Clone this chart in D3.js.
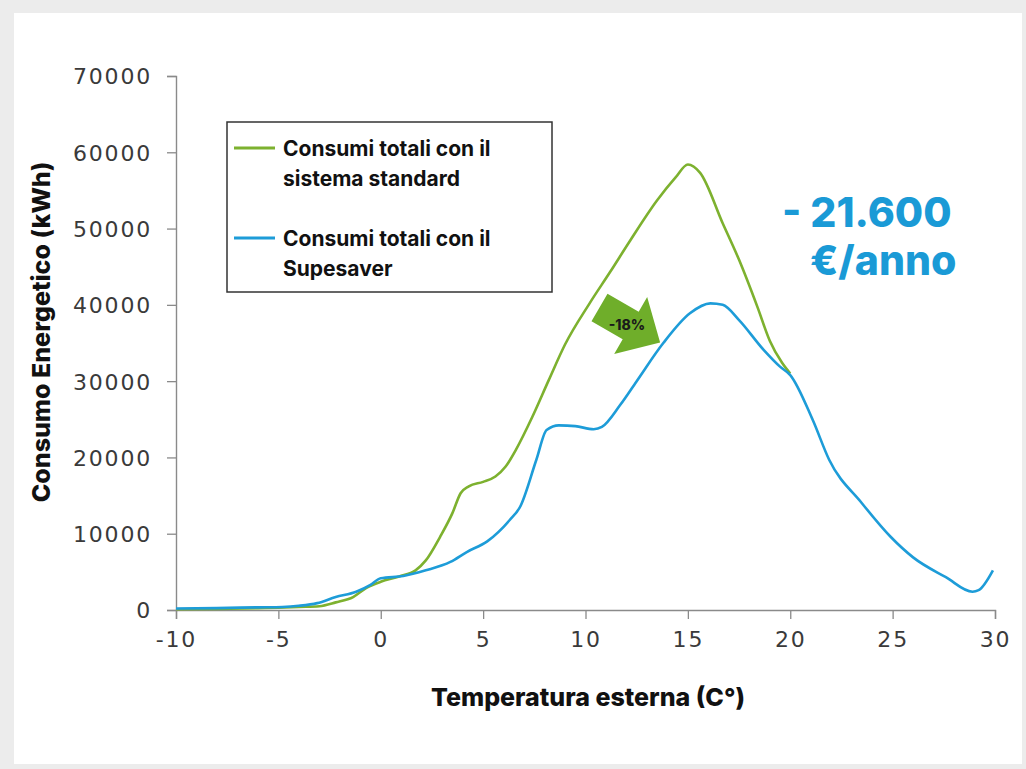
<!DOCTYPE html>
<html>
<head>
<meta charset="utf-8">
<script src="https://cdn.jsdelivr.net/npm/d3@7"></script>
<style>
  html,body{margin:0;padding:0;background:#ececec;}
  svg{display:block;}
</style>
</head>
<body>
<svg id="chart" width="1026" height="769"></svg>
<script>
// ---- data ----
const standardTemps = [-10,-8,-6,-5,-4,-3,-2.2,-1.35,-0.7,0,0.9,1.7,2.2,2.9,3.5,3.9,4.3,5.0,5.6,6.1,6.6,7.4,8.2,9.0,10.2,11.2,12.2,13.5,14.4,15.0,15.6,16.7,17.5,18.4,19.0,19.6,20.0];
const standardValues = [100,150,250,300,400,500,1000,1700,2900,3700,4400,5200,6500,9600,12700,15300,16200,16800,17500,18800,21000,25300,30100,34800,40200,44300,48500,53700,56700,58400,57300,50700,45900,39700,35300,32400,31000];

const saverTemps = [-10,-8,-6,-4.8,-4,-3.1,-2.2,-1.2,-0.5,0,1.1,2.2,3.4,4.2,5.2,6.3,6.8,7.6,8.1,8.7,9.5,10.4,10.8,11.7,12.5,13.8,15.1,16.1,16.7,17.5,18.7,19.5,20.0,21.1,21.9,23.5,24.9,26.0,27.6,28.9,29.2,29.9];
const saverValues = [200,250,350,400,550,900,1700,2400,3300,4150,4450,5200,6300,7600,9000,11800,13500,19700,23600,24200,24100,23700,24000,26900,30000,35000,38900,40200,40000,38000,34100,31900,30800,24900,19700,14000,9600,6900,4300,2400,2600,5200];

const xTicks = [-10,-5,0,5,10,15,20,25,30];
const yTicks = [0,10000,20000,30000,40000,50000,60000,70000];

const seriesNames = ["Consumi totali con il|sistema standard","Consumi totali con il|Supesaver"];
const seriesColors = ["#7db12f","#1d9cd8"];
const xTitle = "Temperatura esterna (C°)";
const yTitle = "Consumo Energetico (kWh)";
const savingLines = ["- 21.600","€/anno"];
const arrowLabel = "-18%";

// ---- drawing ----
const svg = d3.select("#chart");
svg.append("rect").attr("x",14).attr("y",13).attr("width",1008).attr("height",751).attr("fill","#ffffff");

const x = d3.scaleLinear().domain([-10,30]).range([176,995]);
const y = d3.scaleLinear().domain([0,70000]).range([610,76]);

const axisColor = "#8a8a8a";
const tickFont = "'DejaVu Sans', sans-serif";

// y axis
const yAxis = svg.append("g").attr("transform","translate(176,0)")
  .call(d3.axisLeft(y).tickValues(yTicks).tickSize(9).tickPadding(15).tickFormat(d3.format("d")));
// x axis
const xAxis = svg.append("g").attr("transform","translate(0,610)")
  .call(d3.axisBottom(x).tickValues(xTicks).tickSize(9).tickPadding(12).tickFormat(d => d));
[yAxis,xAxis].forEach(g=>{
  g.select(".domain").attr("stroke",axisColor).attr("stroke-width",1.4);
  g.selectAll(".tick line").attr("stroke",axisColor).attr("stroke-width",1.3);
  g.selectAll(".tick text").attr("fill","#3a3a3a").style("font-family",tickFont)
   .style("font-size","22px").style("letter-spacing","1.8px").style("font-weight","normal");
});
yAxis.selectAll(".tick text").attr("dy","0.36em");
xAxis.selectAll(".tick text").attr("dy","0.72em");

// lines
const line = d3.line().x(d=>x(d[0])).y(d=>y(d[1])).curve(d3.curveMonotoneX);
const stdData = d3.zip(standardTemps, standardValues);
const savData = d3.zip(saverTemps, saverValues);
svg.append("path").datum(stdData).attr("d",line).attr("fill","none")
  .attr("stroke",seriesColors[0]).attr("stroke-width",2.6).attr("stroke-linejoin","round");
svg.append("path").datum(savData).attr("d",line).attr("fill","none")
  .attr("stroke",seriesColors[1]).attr("stroke-width",2.6).attr("stroke-linejoin","round");

// legend
const boldFont = "Inter, 'Noto Sans', sans-serif";
const lg = svg.append("g");
lg.append("rect").attr("x",227).attr("y",122).attr("width",325).attr("height",170)
  .attr("fill","#fff").attr("stroke","#333").attr("stroke-width",1.5);
seriesNames.forEach((name,i)=>{
  const cy = 148 + i*90;
  lg.append("line").attr("x1",234).attr("x2",275).attr("y1",cy).attr("y2",cy)
    .attr("stroke",seriesColors[i]).attr("stroke-width",3);
  name.split("|").forEach((t,j)=>{
    lg.append("text").attr("x",283).attr("y",cy + j*30).attr("dy","0.36em")
      .style("font-family",boldFont).style("font-weight","650").style("font-size","21px")
      .attr("fill","#111").text(t);
  });
});

// arrow
const ag = svg.append("g").attr("transform","translate(599.5,307.5) rotate(30)");
ag.append("path").attr("d","M0,-16 L36,-16 L36,-33 L70,0 L36,33 L36,16 L0,16 Z").attr("fill","#6fae2a");
svg.append("text").attr("x",627).attr("y",325).attr("dy","0.36em").attr("text-anchor","middle")
  .style("font-family",boldFont).style("font-weight","800").style("font-size","14px")
  .attr("fill","#1a1a1a").text(arrowLabel);

// savings text
svg.append("text").attr("x",782).attr("y",227)
  .style("font-family",boldFont).style("font-weight","800").style("font-size","41px")
  .attr("fill","#1a9ad6").text(savingLines[0]);
svg.append("text").attr("x",810).attr("y",275)
  .style("font-family",boldFont).style("font-weight","800").style("font-size","41px")
  .attr("fill","#1a9ad6").text(savingLines[1]);

// axis titles
svg.append("text").attr("x",588).attr("y",706).attr("text-anchor","middle")
  .style("font-family",boldFont).style("font-weight","800").style("font-size","25px")
  .attr("fill","#111").text(xTitle);
svg.append("text").attr("transform","translate(50,332) rotate(-90)").attr("text-anchor","middle")
  .style("font-family",boldFont).style("font-weight","800").style("font-size","25px")
  .attr("fill","#111").text(yTitle);
</script>
</body>
</html>
